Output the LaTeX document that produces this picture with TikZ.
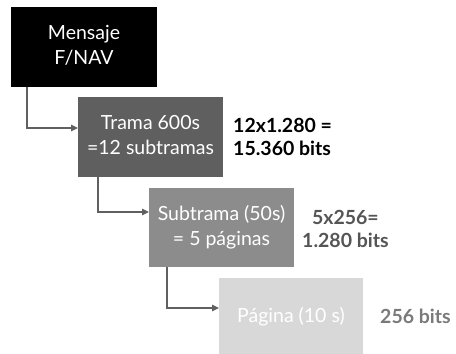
\documentclass[tikz,border=0pt]{standalone}
\usepackage{fontspec}
\setmainfont{Lato}
\usetikzlibrary{arrows.meta}
\definecolor{c1}{HTML}{000000}
\definecolor{c2}{HTML}{5F5F5F}
\definecolor{c3}{HTML}{8C8C8C}
\definecolor{c4}{HTML}{D8D8D8}
\definecolor{linec}{HTML}{606060}
\definecolor{l3c}{HTML}{555555}
\definecolor{l4c}{HTML}{7A7A7A}
\begin{document}
\begin{tikzpicture}[x=1pt,y=-1pt,
  boxst/.style={inner sep=0pt, outer sep=0pt, anchor=north west, text=white, align=center,
    font=\fontsize{19.5}{25}\selectfont},
  conn/.style={draw=linec, line width=1.3pt, -{Triangle[length=7pt,width=6.5pt]}},
  lab/.style={inner sep=0pt, anchor=base west, font=\bfseries\fontsize{19.5}{23}\selectfont}]
\useasboundingbox (0,0) rectangle (456,354);
\node[boxst, fill=c1, minimum width=146pt, minimum height=80pt] (b1) at (11,7)
  {\strut Mensaje\\\strut F/NAV};
\node[boxst, fill=c2, minimum width=145pt, minimum height=80pt] (b2) at (78,97)
  {\strut Trama 600s\\\strut =12 subtramas};
\node[boxst, fill=c3, minimum width=145pt, minimum height=79pt] (b3) at (149,188)
  {\strut Subtrama (50s)\\\strut = 5 páginas};
\node[boxst, fill=c4, minimum width=144pt, minimum height=78pt] (b4) at (219,278)
  {\strut Página (10 s)};
\draw[conn] ([xshift=16pt]b1.south west) |- ([yshift=9pt]b2.west);
\draw[conn] ([xshift=20pt]b2.south west) |- ([yshift=15.5pt]b3.west);
\draw[conn] ([xshift=18pt]b3.south west) |- ([yshift=9pt]b4.west);
\node[lab, text=black, align=left] (l2) at (233,155) {12x1.280 =\\15.360 bits};
\node[lab, text=l3c, align=center] (l3) at (302,247) {5x256=\\1.280 bits};
\node[lab, text=l4c] (l4) at (380,323) {256 bits};
\end{tikzpicture}
\end{document}
